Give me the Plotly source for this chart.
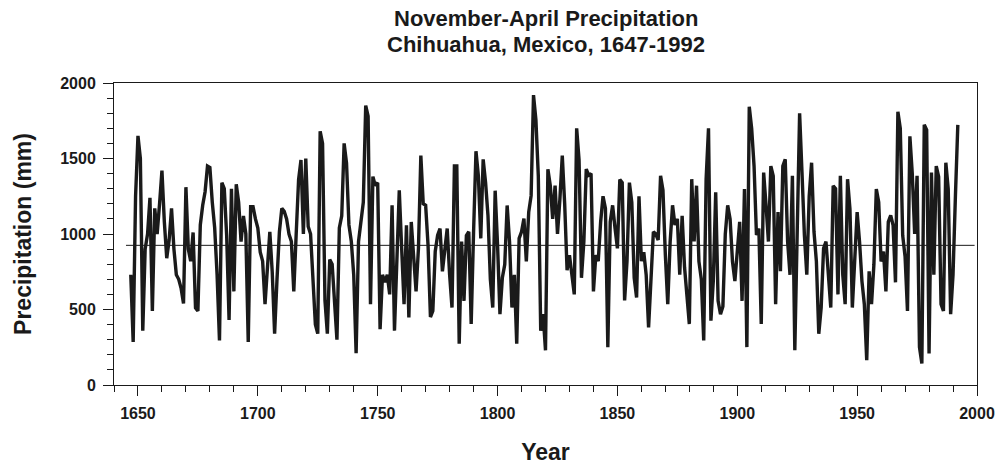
import plotly.graph_objects as go

# ---- data ----
first_year = 1647
last_year = 1992

precip_1647_1649 = [730, 285, 1250]
precip_1650s = [1650, 1500, 360, 900, 1000, 1240, 490, 1170, 1000, 1200]
precip_1660s = [1420, 1080, 840, 960, 1170, 900, 730, 700, 640, 540]
precip_1670s = [1310, 900, 820, 1010, 510, 490, 1060, 1190, 1280, 1450]
precip_1680s = [1440, 1210, 1040, 730, 295, 1340, 1300, 990, 430, 1300]
precip_1690s = [620, 1330, 1210, 950, 1120, 1000, 285, 1180, 1180, 1100]
precip_1700s = [1040, 880, 820, 535, 740, 1015, 750, 340, 700, 1015]
precip_1710s = [1170, 1150, 1100, 1000, 950, 620, 1000, 1360, 1490, 1000]
precip_1720s = [1500, 1050, 1000, 730, 400, 340, 1680, 1600, 560, 340]
precip_1730s = [830, 800, 560, 300, 1040, 1120, 1600, 1470, 1060, 950]
precip_1740s = [730, 210, 950, 1080, 1210, 1850, 1780, 535, 1380, 1320]
precip_1750s = [1340, 370, 730, 680, 730, 600, 1190, 360, 860, 1290]
precip_1760s = [905, 535, 1058, 448, 1080, 840, 620, 905, 1520, 1200]
precip_1770s = [1190, 927, 450, 491, 884, 993, 1036, 753, 884, 1036]
precip_1780s = [730, 513, 1450, 1450, 273, 950, 557, 990, 1015, 404]
precip_1790s = [1015, 1548, 1385, 971, 1494, 1341, 1123, 700, 513, 1287]
precip_1800s = [927, 469, 710, 797, 1189, 950, 513, 730, 273, 971]
precip_1810s = [1015, 1102, 818, 1145, 1254, 1920, 1756, 1385, 360, 469]
precip_1820s = [230, 1429, 1320, 1100, 1320, 1000, 1230, 1520, 1200, 760]
precip_1830s = [860, 710, 600, 1700, 1490, 710, 950, 1430, 1390, 1400]
precip_1840s = [620, 860, 820, 1080, 1250, 1170, 251, 1080, 1190, 1040]
precip_1850s = [905, 1360, 1340, 560, 820, 1340, 1210, 710, 580, 1250]
precip_1860s = [820, 880, 730, 382, 690, 1015, 1000, 960, 1385, 1290]
precip_1870s = [860, 535, 950, 1190, 1060, 1100, 730, 1120, 780, 600]
precip_1880s = [404, 1363, 950, 1320, 818, 700, 295, 1363, 1700, 426]
precip_1890s = [690, 1276, 557, 469, 520, 1000, 1190, 1100, 818, 688]
precip_1900s = [905, 1080, 557, 1298, 251, 1843, 1700, 1450, 993, 1036]
precip_1910s = [404, 1407, 1190, 950, 1450, 1385, 535, 1145, 753, 1450]
precip_1920s = [1494, 950, 730, 1385, 230, 1123, 1799, 1407, 993, 730]
precip_1930s = [1250, 1472, 1015, 818, 339, 513, 905, 950, 688, 513]
precip_1940s = [1320, 1300, 600, 1385, 730, 535, 1363, 1167, 513, 862]
precip_1950s = [1145, 950, 688, 535, 164, 753, 535, 800, 1298, 1210]
precip_1960s = [818, 884, 620, 1080, 1123, 1058, 680, 1810, 1700, 990]
precip_1970s = [850, 491, 1647, 1400, 1000, 1385, 251, 142, 1723, 1690]
precip_1980s = [208, 1407, 730, 1450, 1380, 535, 491, 1472, 1298, 469]
precip_1990_1992 = [730, 1254, 1723]

long_term_mean = 925
mean_line_years = [1645, 1999]

x_tick_values = [1650, 1700, 1750, 1800, 1850, 1900, 1950, 2000]
y_tick_values = [0, 500, 1000, 1500, 2000]

title_lines = ["November-April Precipitation", "Chihuahua, Mexico, 1647-1992"]
x_title = "Year"
y_title = "Precipitation (mm)"

# ---- assemble ----
precip = (precip_1647_1649 + precip_1650s + precip_1660s + precip_1670s + precip_1680s
          + precip_1690s + precip_1700s + precip_1710s + precip_1720s + precip_1730s
          + precip_1740s + precip_1750s + precip_1760s + precip_1770s + precip_1780s
          + precip_1790s + precip_1800s + precip_1810s + precip_1820s + precip_1830s
          + precip_1840s + precip_1850s + precip_1860s + precip_1870s + precip_1880s
          + precip_1890s + precip_1900s + precip_1910s + precip_1920s + precip_1930s
          + precip_1940s + precip_1950s + precip_1960s + precip_1970s + precip_1980s
          + precip_1990_1992)
years = list(range(first_year, last_year + 1))
assert len(years) == len(precip)

FONT = "Liberation Sans, Arial, sans-serif"
INK = "#1a1a1a"
PLOT_TOP, PLOT_H = 83, 307

fig = go.Figure()
fig.add_trace(go.Scatter(
    x=mean_line_years, y=[long_term_mean] * len(mean_line_years), mode="lines",
    line=dict(color=INK, width=1), hoverinfo="skip", showlegend=False))
fig.add_trace(go.Scatter(
    x=years, y=precip, mode="lines",
    line=dict(color=INK, width=3.4), showlegend=False))

axis_common = dict(
    showline=True, linecolor=INK, linewidth=1, mirror=True,
    showgrid=False, zeroline=False, ticks="outside", tickcolor=INK,
    tickwidth=1, ticklen=10,
    tickfont=dict(family=FONT, size=16, color=INK, weight="bold"),
)

fig.update_xaxes(
    range=[1640, 2000], tickvals=x_tick_values,
    minor=dict(dtick=10, tick0=1640, ticks="outside", ticklen=6, tickcolor=INK, tickwidth=1),
    title=dict(text=x_title, font=dict(family=FONT, size=23, color=INK, weight="bold"), standoff=22),
    ticklabelstandoff=4,
    **axis_common)
fig.update_yaxes(
    range=[0, 2000], tickvals=y_tick_values,
    minor=dict(dtick=100, tick0=0, ticks="outside", ticklen=6, tickcolor=INK, tickwidth=1),
    title=dict(text=y_title, font=dict(family=FONT, size=23, color=INK, weight="bold"), standoff=22),
    ticklabelstandoff=4,
    **axis_common)

# title lines: centre at ~17 px and ~44 px from the top of the page
title_centres_px = [17, 44]
annotations = [
    dict(text=line, x=0.5, xref="paper", xanchor="center",
         y=1 + (PLOT_TOP - cy) / PLOT_H, yref="paper", yanchor="middle", showarrow=False,
         font=dict(family=FONT, size=22, color=INK, weight="bold"))
    for line, cy in zip(title_lines, title_centres_px)
]

fig.update_layout(
    width=1008, height=472,
    margin=dict(l=114, r=31, t=PLOT_TOP, b=82),
    paper_bgcolor="white", plot_bgcolor="white",
    showlegend=False,
    annotations=annotations,
)

fig.write_html("out.html")
